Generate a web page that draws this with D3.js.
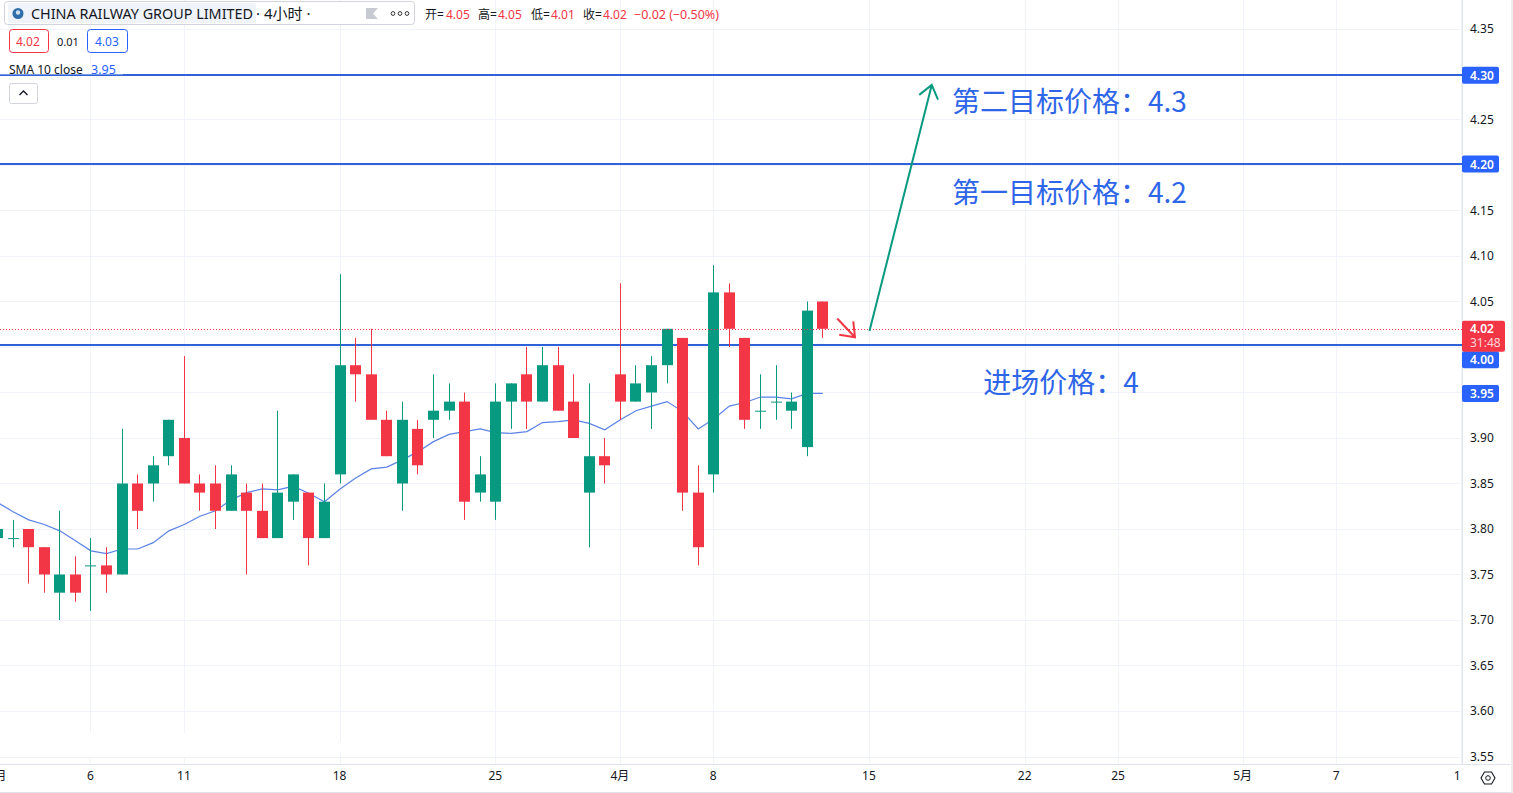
<!DOCTYPE html>
<html><head><meta charset="utf-8">
<style>html,body{margin:0;padding:0;background:#fff;overflow:hidden}svg{display:block}text{font-family:"Noto Sans","Noto Sans CJK SC",sans-serif}</style>
<script src="https://cdn.jsdelivr.net/npm/d3@7"></script></head><body><svg id="c" width="1513" height="793"></svg>
<script>
const opens =[3.79,3.79,3.80,3.78,3.73,3.75,3.76,3.76,3.75,3.85,3.85,3.88,3.90,3.85,3.85,3.82,3.84,3.82,3.79,3.83,3.84,3.79,3.86,3.98,3.97,3.92,3.85,3.91,3.92,3.93,3.94,3.84,3.83,3.94,3.97,3.94,3.98,3.94,3.84,3.88,3.97,3.94,3.95,3.98,4.01,3.84,3.86,4.06,4.01,3.93,3.94,3.93,3.89,4.05];
const highs =[3.80,3.81,3.80,3.78,3.82,3.77,3.79,3.78,3.91,3.86,3.88,3.92,3.99,3.86,3.87,3.87,3.85,3.85,3.93,3.86,3.84,3.85,4.08,4.01,4.02,3.93,3.94,3.92,3.97,3.96,3.95,3.88,3.96,3.96,4.00,4.00,4.00,3.97,3.96,3.90,4.07,3.98,3.99,4.02,4.01,3.87,4.09,4.07,4.01,3.97,3.98,3.95,4.05,4.05];
const lows  =[3.79,3.78,3.74,3.73,3.70,3.72,3.71,3.73,3.75,3.80,3.83,3.87,3.85,3.82,3.80,3.82,3.75,3.79,3.79,3.81,3.76,3.79,3.85,3.94,3.92,3.88,3.82,3.86,3.90,3.92,3.81,3.83,3.81,3.91,3.91,3.94,3.93,3.90,3.78,3.85,3.92,3.94,3.91,3.96,3.82,3.76,3.84,4.00,3.91,3.91,3.92,3.91,3.88,4.01];
const closes=[3.80,3.79,3.78,3.75,3.75,3.73,3.76,3.75,3.85,3.82,3.87,3.92,3.85,3.84,3.82,3.86,3.82,3.79,3.84,3.86,3.79,3.83,3.98,3.97,3.92,3.88,3.92,3.87,3.93,3.94,3.83,3.86,3.94,3.96,3.94,3.98,3.93,3.90,3.88,3.87,3.94,3.96,3.98,4.02,3.84,3.78,4.06,4.02,3.92,3.93,3.94,3.94,4.04,4.02];
const sma   =[3.829,3.819,3.81,3.805,3.798,3.787,3.776,3.773,3.778,3.778,3.785,3.798,3.805,3.814,3.82,3.832,3.84,3.844,3.843,3.847,3.839,3.83,3.844,3.856,3.866,3.868,3.876,3.885,3.896,3.904,3.907,3.91,3.906,3.905,3.907,3.917,3.918,3.92,3.916,3.909,3.92,3.93,3.935,3.94,3.929,3.91,3.921,3.935,3.939,3.945,3.945,3.943,3.949,3.949];
const priceTicks=[4.35,4.30,4.25,4.20,4.15,4.10,4.05,4.00,3.95,3.90,3.85,3.80,3.75,3.70,3.65,3.60,3.55];
const taggedPrices=[4.30,4.20,4.00,3.95];
const timeTickIdx=[0,6,12,22,32,40,46,56,66,72,80,86,94];
const timeTickLabels=["3月","6","11","18","25","4月","8","15","22","25","5月","7","13"];
const levelValues=[4.2985,4.201,4.002];
const tagLabels=["4.30","4.20","4.00","3.95"];
const tagValues=[4.2985,4.201,3.986,3.949];
const arrowUp=[[56,4.0175],[60,4.288]];
const arrowDown=[[53.93,4.0313],[55.07,4.0107]];
const notes=[["第二目标价格：4.3",61.3,4.258],["第一目标价格：4.2",61.3,4.158],["进场价格：4",63.3,3.95]];
const lastPrice=4.02;

const W=1513,H=793,PR=1462,PB=764;
const UP="#089981",DN="#f23645",BL="#2962ff",LN="#2f62d9",GR="#f0f3fa",TX="#131722";
const x=d3.scaleLinear().domain([0,53]).range([-2.45,822.76]);
const y=d3.scaleLinear().domain([3.55,4.35]).range([756.5,28.5]);
const svg=d3.select("#c");
const defs=svg.append("defs");
defs.append("clipPath").attr("id","pane").append("rect").attr("width",PR).attr("height",PB);
defs.append("clipPath").attr("id","tb").append("rect").attr("y",PB).attr("width",PR-1).attr("height",H-PB);
const px=v=>Math.floor(x(v));
const pane=svg.append("g").attr("clip-path","url(#pane)");
// grid
pane.selectAll(".gh").data(priceTicks).join("line").attr("x1",0).attr("x2",PR).attr("y1",d=>Math.round(y(d))+.5).attr("y2",d=>Math.round(y(d))+.5).attr("stroke",GR);
pane.selectAll(".gv").data(timeTickIdx).join("line").attr("x1",d=>px(d)+.5).attr("x2",d=>px(d)+.5).attr("y1",0).attr("y2",PB).attr("stroke",GR);
// faded patches under the chart
pane.append("rect").attr("x",28).attr("y",733).attr("width",282).attr("height",24).attr("fill","#fff");
pane.append("rect").attr("x",310).attr("y",741).attr("width",35).attr("height",11).attr("fill","#fff");
// levels
pane.selectAll(".lv").data(levelValues).join("line").attr("x1",0).attr("x2",PR).attr("y1",d=>Math.round(y(d))).attr("y2",d=>Math.round(y(d))).attr("stroke",LN).attr("stroke-width",2);
// sma
const line=d3.line().x((d,i)=>x(i)).y(d=>y(d));
pane.append("path").attr("d",line(sma)).attr("fill","none").attr("stroke","#5b82e6").attr("stroke-width",1.2);
// candles
const idx=d3.range(opens.length);
const col=i=>closes[i]>=opens[i]?UP:DN;
pane.selectAll(".w").data(idx).join("line").attr("x1",i=>px(i)+.5).attr("x2",i=>px(i)+.5).attr("y1",i=>y(highs[i])).attr("y2",i=>y(lows[i])).attr("stroke",col);
pane.selectAll(".b").data(idx).join("rect").attr("x",i=>px(i)-5).attr("width",11)
 .attr("y",i=>y(Math.max(opens[i],closes[i]))).attr("height",i=>Math.max(1,Math.abs(y(opens[i])-y(closes[i])))).attr("fill",col);
// last price
pane.append("line").attr("x1",0).attr("x2",PR).attr("y1",Math.round(y(lastPrice))+.5).attr("y2",Math.round(y(lastPrice))+.5).attr("stroke",DN).attr("stroke-dasharray","1 2");
// arrows
function arrow(pts,c,sw,len){
 const [a,b]=pts.map(p=>[x(p[0]),y(p[1])]);
 const t=Math.atan2(b[1]-a[1],b[0]-a[0]);
 const hd=s=>[b[0]-len*Math.cos(t+s),b[1]-len*Math.sin(t+s)];
 pane.append("path").attr("d",d3.line()([a,b])+"M"+hd(.65)+"L"+b+"L"+hd(-.65)).attr("fill","none").attr("stroke",c).attr("stroke-width",sw);
}
arrow(arrowUp,UP,2,16);
arrow(arrowDown,DN,2,16);
// notes
pane.selectAll(".n").data(notes).join("text").text(d=>d[0]).attr("x",d=>x(d[1])).attr("y",d=>y(d[2])).attr("font-size",28).attr("fill","#2f66e8").style("font-family",'"Noto Sans CJK SC"');
// axes
const yAxis=d3.axisRight(y).tickValues(priceTicks.filter(p=>!taggedPrices.includes(p))).tickFormat(d3.format(".2f")).tickSize(0).tickPadding(8);
const ya=svg.append("g").attr("transform",`translate(${PR},0)`).call(yAxis);
ya.select(".domain").remove();
ya.selectAll("text").attr("font-size",12).attr("fill",TX).attr("font-family",null);
const xAxis=d3.axisBottom(x).tickValues(timeTickIdx).tickFormat((d,i)=>timeTickLabels[i]).tickSize(0).tickPadding(7);
const xa=svg.append("g").attr("clip-path","url(#tb)").append("g").attr("transform",`translate(-1,${PB})`).call(xAxis);
xa.select(".domain").remove();
xa.selectAll("text").attr("font-size",12).attr("fill",TX).attr("font-family",null);
// frame
const frame=[[PR+.5,0,PR+.5,PB+.5],[0,PB+.5,1511,PB+.5],[0,792.5,1513,792.5]];
svg.selectAll(".fr").data(frame).join("line").attr("x1",d=>d[0]).attr("y1",d=>d[1]).attr("x2",d=>d[2]).attr("y2",d=>d[3]).attr("stroke","#e0e3eb");
svg.append("rect").attr("x",1511).attr("width",2).attr("height",H).attr("fill","#eceef2");
// tags
const tg=svg.append("g");
tg.selectAll("rect").data(tagValues).join("rect").attr("x",PR).attr("width",37).attr("height",17).attr("y",d=>y(d)-8.5).attr("rx",2).attr("fill",BL);
tg.selectAll("text").data(tagLabels).join("text").text(d=>d).attr("x",PR+8).attr("y",(d,i)=>y(tagValues[i])+4.5).attr("font-size",12).attr("font-weight",600).attr("fill","#fff");
const ry=y(lastPrice);
svg.append("rect").attr("x",PR).attr("y",ry-8).attr("width",43).attr("height",31).attr("rx",2).attr("fill",DN);
svg.append("text").text(d3.format(".2f")(lastPrice)).attr("x",PR+8).attr("y",ry+4).attr("font-size",12).attr("font-weight",600).attr("fill","#fff");
svg.append("text").text("31:48").attr("x",PR+8).attr("y",ry+18).attr("font-size",12).attr("fill","#fcd5d9");
// settings icon
const cx=1488,cy=778;
svg.append("path").attr("d",d3.line()(d3.range(6).map(k=>[cx+7*Math.cos(k*Math.PI/3),cy+7*Math.sin(k*Math.PI/3)]))+"Z").attr("fill","none").attr("stroke",TX).attr("stroke-width",1.1);
svg.append("circle").attr("cx",cx).attr("cy",cy).attr("r",2.3).attr("fill","none").attr("stroke",TX);
// header
const h=svg.append("g");
h.append("rect").attr("x",4.5).attr("y",1.5).attr("width",410).attr("height",23).attr("rx",3).attr("fill","#fff").attr("stroke","#d1d4dc");
h.append("rect").attr("x",8).attr("y",3).attr("width",248).attr("height",20).attr("rx",2).attr("fill",GR);
h.append("circle").attr("cx",18).attr("cy",13.5).attr("r",5.5).attr("fill","#2f6ea8");
h.append("circle").attr("cx",18).attr("cy",12.5).attr("r",2.2).attr("fill","#cfe0ee");
const T=(s,xx,yy,fs,c,extra)=>{const t=h.append("text").text(s).attr("x",xx).attr("y",yy).attr("font-size",fs).attr("fill",c);if(extra)extra(t);return t;};
T("CHINA RAILWAY GROUP LIMITED",31,19,14,TX,t=>t.attr("textLength",222).attr("lengthAdjust","spacingAndGlyphs"));
T("· 4小时 ·",256,19,15,TX);
h.append("path").attr("d",d3.line()([[366,8],[378,8],[373,13.5],[378,19],[366,19]])+"Z").attr("fill","#c8cad1");
h.selectAll(".dot").data([393,400,407]).join("circle").attr("cx",d=>d).attr("cy",13.5).attr("r",1.9).attr("fill","none").attr("stroke","#333");
const ohlc=[["开=",425],["高=",478],["低=",531],["收=",583]];
const ohlcV=[["4.05",446],["4.05",498],["4.01",551],["4.02",603]];
ohlc.forEach(d=>T(d[0],d[1],18.5,12,TX));
ohlcV.forEach(d=>T(d[0],d[1],18.5,12,DN));
T("−0.02 (−0.50%)",634,18.5,12,DN,t=>t.attr("textLength",85).attr("lengthAdjust","spacingAndGlyphs"));
h.append("rect").attr("x",9.5).attr("y",29.5).attr("width",39).attr("height",23).attr("rx",3).attr("fill","#fff").attr("stroke",DN);
T("4.02",16,46,12,DN);
T("0.01",57,45.5,11,TX);
h.append("rect").attr("x",87.5).attr("y",29.5).attr("width",40).attr("height",23).attr("rx",3).attr("fill","#fff").attr("stroke",BL);
T("4.03",95,46,12,BL);
h.append("rect").attr("x",0).attr("y",62).attr("width",123).attr("height",12.5).attr("fill","#fff").attr("opacity",.7);
T("SMA 10 close",9,74,12,TX);
T("3.95",91,74,12.5,BL);
h.append("rect").attr("x",9.5).attr("y",83.5).attr("width",28).attr("height",20).attr("rx",2).attr("fill","#fff").attr("stroke","#d1d4dc");
h.append("path").attr("d",d3.line()([[19.5,95],[23.5,91],[27.5,95]])).attr("fill","none").attr("stroke",TX).attr("stroke-width",1.3);
</script></body></html>
